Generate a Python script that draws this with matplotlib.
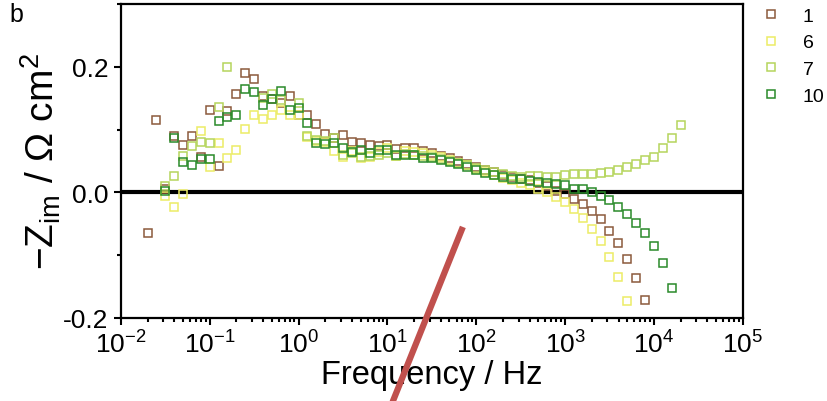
import numpy as np
import matplotlib
matplotlib.use("Agg")
import matplotlib.pyplot as plt
from matplotlib.lines import Line2D
from matplotlib.ticker import LogLocator, MultipleLocator, FixedLocator

plt.rcParams["font.family"] = ["Liberation Sans", "DejaVu Sans"]
plt.rcParams["mathtext.default"] = "regular"
plt.rcParams["axes.unicode_minus"] = False

nan = np.nan
# measurement frequencies, 10 points per decade (Hz)
freq_hz = [20000, 15849, 12589, 10000, 7943, 6310, 5012, 3981, 3162, 2512,
           1995, 1585, 1259, 1000, 794.3, 631.0, 501.2, 398.1, 316.2, 251.2,
           199.5, 158.5, 125.9, 100.0, 79.43, 63.10, 50.12, 39.81, 31.62, 25.12,
           19.95, 15.85, 12.59, 10.0, 7.943, 6.310, 5.012, 3.981, 3.162, 2.512,
           1.995, 1.585, 1.259, 1.0, 0.7943, 0.6310, 0.5012, 0.3981, 0.3162, 0.2512,
           0.1995, 0.1585, 0.1259, 0.1, 0.07943, 0.06310, 0.05012, 0.03981, 0.03162, 0.02512,
           0.01995]

# -Z_im (ohm cm^2) for each sample
zim_1 = [nan, nan, nan, nan, -0.172, -0.137, -0.106, -0.080, -0.062, -0.043,
         -0.029, -0.019, -0.010, -0.003, 0.003, 0.010, 0.015, 0.019, 0.022, 0.025,
         0.028, 0.032, 0.036, 0.041, 0.045, 0.050, 0.055, 0.058, 0.062, 0.066,
         0.071, 0.070, 0.069, 0.075, 0.074, 0.075, 0.078, 0.080, 0.091, 0.086,
         0.093, 0.109, 0.123, 0.123, 0.153, 0.142, 0.148, 0.153, 0.180, 0.190,
         0.157, 0.130, 0.042, 0.131, 0.057, 0.090, 0.075, 0.090, 0.006, 0.115,
         -0.065]
zim_6 = [nan, nan, nan, nan, nan, nan, -0.173, -0.134, -0.103, -0.078,
         -0.058, -0.041, -0.027, -0.016, -0.008, 0.000, 0.005, 0.011, 0.015, 0.019,
         0.023, 0.028, 0.033, 0.038, 0.043, 0.047, 0.051, 0.056, 0.060, 0.062,
         0.064, 0.066, 0.058, 0.070, 0.064, 0.056, 0.055, 0.066, 0.057, 0.066,
         0.080, 0.082, 0.088, 0.124, 0.124, 0.131, 0.123, 0.117, 0.123, 0.101,
         0.067, 0.054, 0.078, 0.040, 0.098, nan, -0.003, -0.023, -0.006, nan,
         nan]
zim_7 = [0.107, 0.087, 0.070, 0.057, 0.052, 0.046, 0.040, 0.036, 0.033, 0.031,
         0.030, 0.029, 0.029, 0.028, 0.024, 0.024, 0.026, 0.026, 0.025, 0.026,
         0.029, 0.032, 0.035, 0.039, 0.043, 0.047, 0.050, 0.053, 0.056, 0.058,
         0.059, 0.061, 0.058, 0.063, 0.060, 0.058, 0.057, 0.063, 0.059, 0.087,
         0.082, 0.084, 0.090, 0.142, nan, 0.147, 0.157, 0.150, nan, nan,
         nan, 0.200, 0.136, 0.079, 0.080, 0.074, 0.058, 0.026, 0.010, nan,
         nan]
zim_10 = [nan, -0.152, -0.112, -0.086, -0.064, -0.048, -0.034, -0.023, -0.012, -0.006,
          0.000, 0.005, 0.006, 0.011, 0.013, 0.015, 0.016, 0.018, 0.021, 0.022,
          0.024, 0.027, 0.031, 0.035, 0.040, 0.045, 0.049, 0.052, 0.054, 0.055,
          0.059, 0.059, 0.060, 0.067, 0.067, 0.062, 0.068, 0.064, 0.070, 0.079,
          0.077, 0.078, 0.111, 0.135, 0.132, 0.161, 0.149, 0.139, 0.160, 0.165,
          0.123, 0.120, 0.114, 0.053, 0.053, 0.043, 0.049, 0.086, 0.003, nan,
          nan]

labels = ["1", "6", "7", "10"]
colors = ["#8c5a3c", "#ecec66", "#b5d55c", "#2a8a2a"]

fig = plt.figure(figsize=(8.28, 4.02), dpi=100)
ax = fig.add_axes([0.146, 0.2065, 0.751, 0.781])

ax.axhline(0, color="black", lw=3, zorder=1)
for z, lab, c in zip([zim_1, zim_6, zim_7, zim_10], labels, colors):
    ax.plot(freq_hz, z, ls="none", marker="s", ms=5.3, mfc="none", mec=c, mew=1.1,
            label=lab, zorder=3)

ax.set_xscale("log")
ax.set_xlim(1e-2, 1e5)
ax.set_ylim(-0.2, 0.3)
ax.xaxis.set_major_locator(FixedLocator([10.0 ** k for k in range(-2, 6)]))
ax.xaxis.set_minor_locator(LogLocator(base=10, subs=np.arange(2, 10), numticks=20))
ax.xaxis.set_major_formatter(plt.FuncFormatter(lambda v, p: r"$10^{%d}$" % round(np.log10(v))))
ax.yaxis.set_major_locator(FixedLocator([-0.2, 0.0, 0.2]))
ax.yaxis.set_minor_locator(MultipleLocator(0.1))
ax.yaxis.set_major_formatter(plt.FuncFormatter(lambda v, p: "%.1f" % v))
ax.tick_params(which="both", direction="out", width=1.5, labelsize=19, top=False, right=False)
ax.tick_params(which="major", length=5, pad=4)
ax.tick_params(which="minor", length=3)
for sp in ax.spines.values():
    sp.set_linewidth(1.6)

ax.set_xlabel("Frequency / Hz", fontsize=23.5, labelpad=1)
ax.set_ylabel("\u2212Z$_{im}$ / \u03a9 cm$^{2}$", fontsize=28, labelpad=0)

fig.text(0.012, 0.962, "b", fontsize=18, va="center", ha="left")

fig.legend(loc="upper left", bbox_to_anchor=(0.92, 0.98), frameon=False, fontsize=14,
           handlelength=1.0, handletextpad=1.1, labelspacing=0.47, borderpad=0,
           borderaxespad=0)

# pen stroke across the lower panel
fig.add_artist(Line2D([0.559, 0.4707], [0.433, -0.02], transform=fig.transFigure,
                      color="#c0504d", lw=4.5, solid_capstyle="butt", zorder=10))

fig.savefig("out.png", dpi=100)
